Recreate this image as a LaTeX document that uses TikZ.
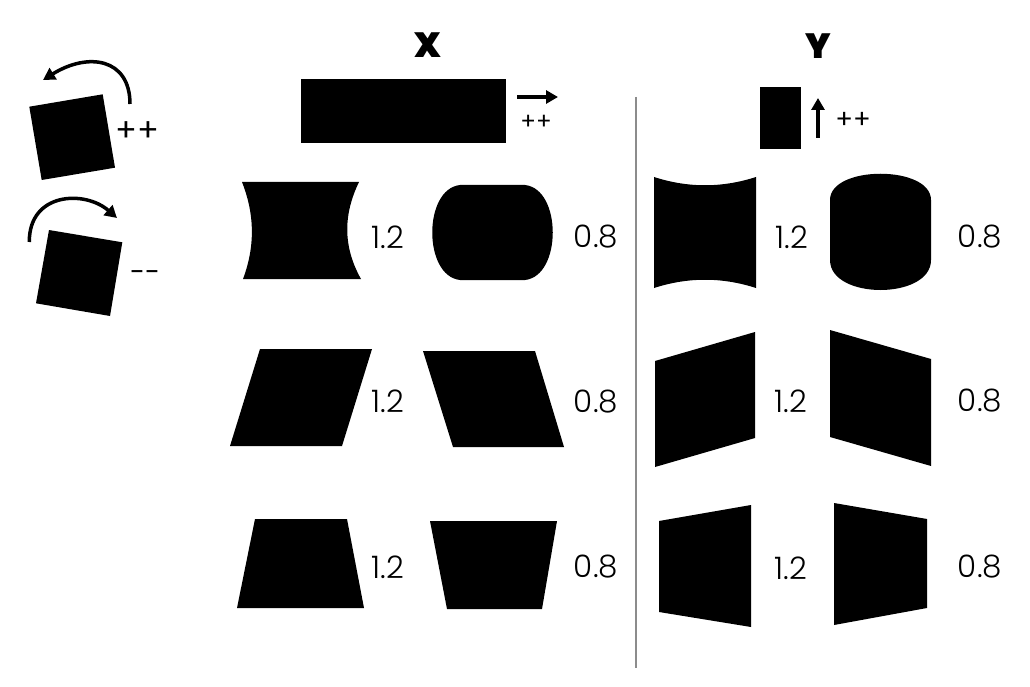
\documentclass[tikz,border=0pt]{standalone}
\usepackage{fontspec}
\setmainfont{Poppins}
\newfontfamily\thinfont{Poppins Light}
\newfontfamily\blackfont{Poppins Black}
\usetikzlibrary{arrows.meta}
\tikzset{
  shp/.style={fill=black, draw=none},
  num/.style={font=\thinfont\fontsize{31}{31}\selectfont, inner sep=0pt},
  pmbig/.style={font=\fontsize{32}{32}\selectfont, inner sep=0pt},
  mmbig/.style={font=\fontsize{27}{27}\selectfont, inner sep=0pt},
  pmx/.style={font=\fontsize{23}{23}\selectfont, inner sep=0pt},
  pmsmall/.style={font=\fontsize{26}{26}\selectfont, inner sep=0pt},
  head/.style={font=\blackfont\fontsize{35}{35}\selectfont, inner sep=0pt},
  arr/.style={line width=3.5pt, -{Triangle[width=13pt,length=12pt]}},
  sep/.style={draw=black!45, line width=1.2pt}
}
\begin{document}
\begin{tikzpicture}[x=1pt,y=-1pt]
\useasboundingbox (0,0) rectangle (1030,687);
% rotated squares
\fill[shp] (29.3,106.7) -- (102.7,94.3) -- (115,167.7) -- (41.7,180) -- cycle;
\coordinate (a1s) at (130,104);
\coordinate (a1e) at (43,80);
\draw[arr] (a1s) .. controls (130,58) and (88,52) .. (a1e);
\node[pmbig] (pp1) at (137,132) {++};
\fill[shp] (49,230) -- (122.3,242.3) -- (110,316) -- (36,303.3) -- cycle;
\coordinate (a2s) at (29.3,242);
\coordinate (a2e) at (117,218);
\draw[arr] (a2s) .. controls (29,192) and (85,190) .. (a2e);
\node[mmbig] (mm1) at (145,276) {-{}-};
% headers
\node[head] (X) at (428,45) {X};
\node[head] (Y) at (818,46) {Y};
\fill[shp] (301,79) rectangle (506,143);
\coordinate (xa1) at (517,97);
\coordinate (xa2) at (558,97);
\draw[arr] (xa1) -- (xa2);
\node[pmx] (pp2) at (536,122) {++};
\fill[shp] (760,87) rectangle (801,149);
\coordinate (ya1) at (818,138);
\coordinate (ya2) at (818,98);
\draw[arr] (ya1) -- (ya2);
\node[pmsmall] (pp3) at (853,120) {++};
% separator
\coordinate (s1) at (636,97);
\coordinate (s2) at (636,668);
\draw[sep] (s1) -- (s2);
% row 1 X
\fill[shp] (242,182) -- (359,182) .. controls (343,215) and (343,247) .. (361,279) -- (243,279) .. controls (255,247) and (255,215) .. (242,182) -- cycle;
\fill[shp] (460,185) -- (525,185) .. controls (562,189) and (562,276) .. (525,280) -- (460,280) .. controls (423,276) and (423,189) .. (460,185) -- cycle;
\node[num] (n11) at (388,237) {1.2};
\node[num] (n12) at (596,237) {0.8};
% row 1 Y
\fill[shp] (654,177) .. controls (688,188) and (722,188) .. (756,177) -- (756,288) .. controls (722,277) and (688,277) .. (654,288) -- cycle;
\fill[shp] (830,200) .. controls (830,165) and (931,165) .. (931,200) -- (931,260) .. controls (931,300) and (830,300) .. (830,260) -- cycle;
\node[num] (n13) at (792,237) {1.2};
\node[num] (n14) at (980,237) {0.8};
% row 2 X
\fill[shp] (260,349) -- (372,349) -- (342,446) -- (230,446) -- cycle;
\fill[shp] (423,351) -- (535,351) -- (564,447) -- (453,447) -- cycle;
\node[num] (n21) at (388,401) {1.2};
\node[num] (n22) at (596,402) {0.8};
% row 2 Y
\fill[shp] (655,361) -- (755,332) -- (755,438) -- (655,467) -- cycle;
\fill[shp] (830,330) -- (931,359) -- (931,466) -- (830,437) -- cycle;
\node[num] (n23) at (791,401) {1.2};
\node[num] (n24) at (980,401) {0.8};
% row 3 X
\fill[shp] (255,519) -- (347,519) -- (364,608) -- (237,608) -- cycle;
\fill[shp] (430,521) -- (557,521) -- (542,609) -- (447,609) -- cycle;
\node[num] (n31) at (388,567) {1.2};
\node[num] (n32) at (596,567) {0.8};
% row 3 Y
\fill[shp] (659,521) -- (751,505) -- (751,627) -- (659,612) -- cycle;
\fill[shp] (834,503) -- (927,519) -- (927,608) -- (834,625) -- cycle;
\node[num] (n33) at (791,568) {1.2};
\node[num] (n34) at (980,567) {0.8};
\end{tikzpicture}
\end{document}
